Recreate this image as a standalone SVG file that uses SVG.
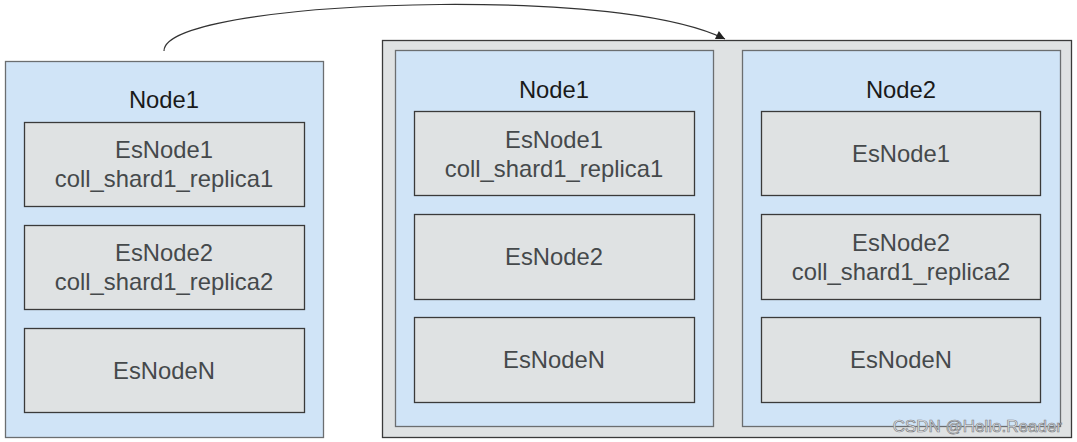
<svg xmlns="http://www.w3.org/2000/svg" width="1077" height="442" viewBox="0 0 1077 442">
<defs>
<style>
.host{fill:#d0e4f7;stroke:#6b6e70;stroke-width:1.3}
.cluster{fill:#dfe2e3;stroke:#3a3a3a;stroke-width:1.3}
.es{fill:#dfe2e3;stroke:#3a3a3a;stroke-width:1.3}
.title{font-family:"Liberation Sans",Arial,sans-serif;font-size:23.8px;fill:#1a1a1a;text-anchor:middle}
.lbl{font-family:"Liberation Sans",Arial,sans-serif;font-size:23.8px;fill:#45494b;text-anchor:middle}
.wm{font-family:"Liberation Sans",Arial,sans-serif;font-size:17px;fill:#eef2f6;stroke:#7d8083;stroke-width:0.7;text-anchor:end}
</style>
<marker id="arr" viewBox="0 0 10 10" refX="10" refY="5" markerWidth="11" markerHeight="9" markerUnits="userSpaceOnUse" orient="auto">
<path d="M0,0 L10,5 L0,10 Z" fill="#222"/>
</marker>
</defs>
<rect width="1077" height="442" fill="#ffffff"/>

<g id="left-node1">
<rect class="host" x="5.5" y="61.5" width="318" height="376"/>
<text class="title" x="164" y="108">Node1</text>
</g>
<g id="left-esnode1">
<rect class="es" x="24.5" y="122.5" width="280" height="84"/>
<text class="lbl" x="164" y="158">EsNode1</text>
<text class="lbl" x="164" y="187">coll_shard1_replica1</text>
</g>
<g id="left-esnode2">
<rect class="es" x="24.5" y="225.5" width="280" height="84"/>
<text class="lbl" x="164" y="261">EsNode2</text>
<text class="lbl" x="164" y="290">coll_shard1_replica2</text>
</g>
<g id="left-esnodeN">
<rect class="es" x="24.5" y="328.5" width="280" height="84"/>
<text class="lbl" x="164" y="379">EsNodeN</text>
</g>

<g id="cluster">
<rect class="cluster" x="382.5" y="40.5" width="689" height="397"/>
</g>
<g id="right-node1">
<rect class="host" x="395.5" y="50.5" width="318" height="376"/>
<text class="title" x="554" y="98">Node1</text>
</g>
<g id="right-node1-esnode1">
<rect class="es" x="414.5" y="111.5" width="280" height="84"/>
<text class="lbl" x="554" y="148">EsNode1</text>
<text class="lbl" x="554" y="177">coll_shard1_replica1</text>
</g>
<g id="right-node1-esnode2">
<rect class="es" x="414.5" y="214.5" width="280" height="85"/>
<text class="lbl" x="554" y="265">EsNode2</text>
</g>
<g id="right-node1-esnodeN">
<rect class="es" x="414.5" y="317.5" width="280" height="85"/>
<text class="lbl" x="554" y="368">EsNodeN</text>
</g>

<g id="right-node2">
<rect class="host" x="742.5" y="50.5" width="318" height="376"/>
<text class="title" x="901" y="98">Node2</text>
</g>
<g id="right-node2-esnode1">
<rect class="es" x="761.5" y="111.5" width="279" height="84"/>
<text class="lbl" x="901" y="162">EsNode1</text>
</g>
<g id="right-node2-esnode2">
<rect class="es" x="761.5" y="214.5" width="279" height="85"/>
<text class="lbl" x="901" y="251">EsNode2</text>
<text class="lbl" x="901" y="280">coll_shard1_replica2</text>
</g>
<g id="right-node2-esnodeN">
<rect class="es" x="761.5" y="317.5" width="279" height="85"/>
<text class="lbl" x="901" y="368">EsNodeN</text>
</g>

<g id="connectors">
<path d="M164,51 C164,24 290,6 440,4.5 C585,3.5 680,17 725,39" fill="none" stroke="#333" stroke-width="1.2" marker-end="url(#arr)"/>
</g>

<text class="wm" x="1062" y="432">CSDN @Hello.Reader</text>
</svg>
